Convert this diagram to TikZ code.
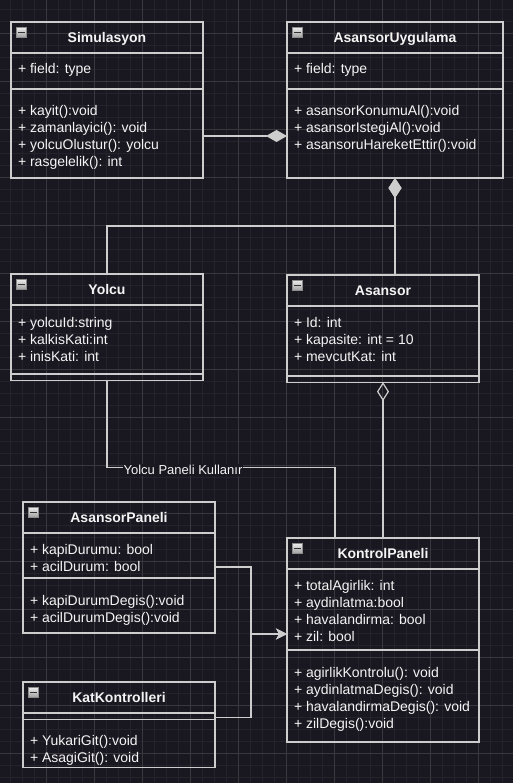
\documentclass[tikz,border=0pt]{standalone}
\usepackage{fontspec}
\setmainfont{Liberation Sans}
\usetikzlibrary{arrows.meta}
\usetikzlibrary{calc}
\definecolor{canvas}{HTML}{19171F}
\definecolor{minorline}{HTML}{25222B}
\definecolor{majorline}{HTML}{3A373F}
\definecolor{edge}{HTML}{CDCDCD}
\definecolor{ink}{HTML}{F4F4F4}
\tikzset{
	headbox/.style={draw=edge, line width=1.2pt, outer sep=0pt, inner sep=0pt, minimum height=31, text height=10pt, text depth=0pt, anchor=north west, text=ink, font=\fontsize{14}{17}\selectfont\bfseries},
	partbox/.style={draw=edge, line width=1.2pt, outer sep=0pt, inner xsep=7pt, inner ysep=0pt, anchor=north west, text=ink, font=\fontsize{14}{17}\selectfont},
	foldicon/.style={draw=black!45, line width=0.6pt, inner sep=0pt, minimum size=10, top color=white!92!black, bottom color=white!62!black},
	foldbar/.style={draw=black!80, line width=1.6pt},
	edgelabel/.style={fill=canvas, inner sep=1pt, text=ink, font=\fontsize{13}{15}\selectfont},
	link/.style={draw=edge, line width=1.2pt},
	minorgrid/.style={draw=minorline, line width=0.8pt},
	majorgrid/.style={draw=majorline, line width=0.8pt}
}
\newcommand{\umlhead}[5] % name, x in px, y in px, width in px, title
{
	% header box
	\node[headbox, minimum width=#4] (#1) at (#2,#3) {#5};
	% collapse icon
	\node[foldicon] (#1-fold) at ([xshift=10.5pt,yshift=-10.5pt]#1.north west) {};
	\draw[foldbar] ([xshift=-3.5pt]#1-fold.center) -- ([xshift=3.5pt]#1-fold.center);
}
\newcommand{\umlpart}[6] % name, box above, width in px, height in px, first baseline, lines
{
	\node[partbox] (#1) at (#2.south west)
		{\parbox[c][#4pt][t]{\dimexpr#3pt-14pt\relax}{\rule{0pt}{#5pt}#6}};
}
\begin{document}
\begin{tikzpicture}[x=1pt, y=-1pt]
	% 513px x 783px, 1px = 1pt
	\useasboundingbox (0,0) rectangle (513,783);
	\fill[canvas] (0,0) rectangle (513,783);
	% grid
	\foreach \gx in {10,22,...,510} \draw[minorgrid] (\gx,0) -- (\gx,783);
	\foreach \gy in {9,21,...,780} \draw[minorgrid] (0,\gy) -- (513,\gy);
	\foreach \gx in {46,94,...,500} \draw[majorgrid] (\gx,0) -- (\gx,783);
	\foreach \gy in {33,81,...,780} \draw[majorgrid] (0,\gy) -- (513,\gy);

	% classes
	\umlhead{sim}{11}{22}{192}{Simulasyon}
	\umlpart{simA}{sim}{192}{36}{21}{+ field: type}
	\umlpart{simM}{simA}{192}{89}{27}{+ kayit():void\\+ zamanlayici(): void\\+ yolcuOlustur(): yolcu\\+ rasgelelik(): int}

	\umlhead{au}{287}{22}{216}{AsansorUygulama}
	\umlpart{auA}{au}{216}{36}{21}{+ field: type}
	\umlpart{auM}{auA}{216}{89}{27}{+ asansorKonumuAl():void\\+ asansorIstegiAl():void\\+ asansoruHareketEttir():void}

	\umlhead{yol}{11}{274}{192}{Yolcu}
	\umlpart{yolA}{yol}{192}{69}{22}{+ yolcuId:string\\+ kalkisKati:int\\+ inisKati: int}
	\umlpart{yolM}{yolA}{192}{5}{0}{}

	\umlhead{asn}{287}{275}{192}{Asansor}
	\umlpart{asnA}{asn}{192}{70}{21}{+ Id: int\\+ kapasite: int = 10\\+ mevcutKat: int}
	\umlpart{asnM}{asnA}{192}{5}{0}{}

	\umlhead{ap}{23}{502}{192}{AsansorPaneli}
	\umlpart{apA}{ap}{192}{45}{21}{+ kapiDurumu: bool\\+ acilDurum: bool}
	\umlpart{apM}{apA}{192}{55}{27}{+ kapiDurumDegis():void\\+ acilDurumDegis():void}

	\umlhead{kp}{287}{538}{192}{KontrolPaneli}
	\umlpart{kpA}{kp}{192}{81}{21}{+ totalAgirlik: int\\+ aydinlatma:bool\\+ havalandirma: bool\\+ zil: bool}
	\umlpart{kpM}{kpA}{192}{92}{27}{+ agirlikKontrolu(): void\\+ aydinlatmaDegis(): void\\+ havalandirmaDegis(): void\\+ zilDegis():void}

	\umlhead{kk}{23}{682}{192}{KatKontrolleri}
	\umlpart{kkA}{kk}{192}{5}{0}{}
	\umlpart{kkM}{kkA}{192}{48}{26}{+ YukariGit():void\\+ AsagiGit(): void}

	% connectors
	\draw[link, -{Diamond[length=21pt, width=12pt]}] ([yshift=-2.5pt]simM.east) -- ([yshift=-2.5pt]auM.west);
	\draw[link, {Diamond[length=20pt, width=13pt]}-] (auM.south) -- ++(0,48) -| (yol.north);
	\draw[link, {Diamond[length=20pt, width=13pt]}-] (auM.south) -- ([xshift=12pt]asn.north);
	\draw[link, {Diamond[open, length=19pt, width=12pt]}-] (asnM.south) -- (kp.north);
	\draw[link] (yolM.south) -- ++(0,87) -| ([xshift=-48pt]kp.north);
	\node[edgelabel] (uses) at (183,470) {Yolcu Paneli Kullanır};
	\coordinate (kpin) at ([yshift=-24.5pt]kpA.west);
	\draw[link, -{Stealth[length=11pt, width=11pt, inset=3pt]}] ([yshift=-11.5pt]apA.east) -- ++(36,0) |- (kpin);
	\draw[link, -{Stealth[length=11pt, width=11pt, inset=3pt]}] ([yshift=-1.5pt]kkA.east) -- ++(36,0) |- (kpin);
\end{tikzpicture}
\end{document}
